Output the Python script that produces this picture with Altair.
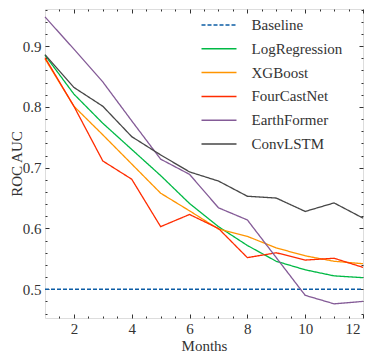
import altair as alt
import pandas as pd

months = list(range(1, 13))
series_names = ["Baseline", "LogRegression", "XGBoost", "FourCastNet", "EarthFormer", "ConvLSTM"]
series_colors = ["#0C5DA5", "#00B945", "#FF9500", "#FF2C00", "#845B97", "#474747"]
series_dash = [[4, 2], [1, 0], [1, 0], [1, 0], [1, 0], [1, 0]]

baseline = [0.5] * 12
log_regression = [0.885, 0.821, 0.773, 0.730, 0.687, 0.641, 0.603, 0.572, 0.546, 0.532, 0.522, 0.519]
xgboost = [0.879, 0.801, 0.754, 0.706, 0.658, 0.629, 0.599, 0.587, 0.568, 0.555, 0.546, 0.542]
fourcastnet = [0.881, 0.801, 0.711, 0.681, 0.603, 0.623, 0.600, 0.552, 0.560, 0.548, 0.551, 0.536]
earthformer = [0.948, 0.895, 0.841, 0.777, 0.714, 0.689, 0.634, 0.614, 0.552, 0.490, 0.476, 0.480]
convlstm = [0.886, 0.832, 0.801, 0.751, 0.721, 0.693, 0.678, 0.653, 0.650, 0.628, 0.642, 0.617]

x_major = [2, 4, 6, 8, 10, 12]
x_minor = [1.5, 2.5, 3, 3.5, 4.5, 5, 5.5, 6.5, 7, 7.5, 8.5, 9, 9.5, 10.5, 11, 11.5]
y_major = [0.5, 0.6, 0.7, 0.8, 0.9]
y_minor = [0.46, 0.48, 0.52, 0.54, 0.56, 0.58, 0.62, 0.64, 0.66, 0.68,
           0.72, 0.74, 0.76, 0.78, 0.82, 0.84, 0.86, 0.88, 0.92, 0.94, 0.96]

all_series = [baseline, log_regression, xgboost, fourcastnet, earthformer, convlstm]
rows = []
for name, vals in zip(series_names, all_series):
    for m, v in zip(months, vals):
        rows.append({"month": m, "value": v, "series": name})
df = pd.DataFrame(rows)

W, H = 318, 309
FONT = "Liberation Serif"
TXT = "#333333"
x_scale = alt.Scale(domain=[1, 12], nice=False, zero=False)
y_scale = alt.Scale(domain=[0.4527, 0.961], nice=False, zero=False)

legend_kw = dict(title=None, orient="none", legendX=155.5, legendY=8,
                 symbolType="stroke", symbolSize=1225, symbolStrokeWidth=1.5,
                 labelFont=FONT, labelFontSize=15, labelColor=TXT,
                 labelOffset=14, rowPadding=7.8, clipHeight=16, padding=0)

main = alt.Chart(df).mark_line(strokeWidth=1.3).encode(
    x=alt.X("month:Q", scale=x_scale,
            axis=alt.Axis(orient="bottom", values=x_major, ticks=False, domain=False, grid=False,
                          labelPadding=3, labelFontSize=15, labelFont=FONT, labelColor=TXT,
                          title="Months", titleFont=FONT, titleFontSize=15, titleFontWeight="normal",
                          titleColor=TXT, titlePadding=2, labelFlush=True, labelFlushOffset=-3)),
    y=alt.Y("value:Q", scale=y_scale,
            axis=alt.Axis(orient="left", values=y_major, ticks=False, domain=False, grid=False,
                          labelPadding=4, labelFontSize=15, labelFont=FONT, labelColor=TXT,
                          format=".1f", title="ROC AUC", titleFont=FONT, titleFontSize=15,
                          titleFontWeight="normal", titleColor=TXT, titlePadding=-2)),
    color=alt.Color("series:N", sort=series_names,
                    scale=alt.Scale(domain=series_names, range=series_colors),
                    legend=alt.Legend(**legend_kw)),
    strokeDash=alt.StrokeDash("series:N", sort=series_names,
                              scale=alt.Scale(domain=series_names, range=series_dash),
                              legend=alt.Legend(**legend_kw)),
    order=alt.Order("series:N"),
)


def tick_axis(orient, values, size, offset):
    return alt.Axis(orient=orient, values=values, tickSize=size, tickWidth=1, tickColor=TXT,
                    labels=False, domain=False, grid=False, title=None, offset=offset)


tick_layers = []
specs = [
    ("top", x_major, 4, -H, "right", y_major, 4, -W),
    ("top", x_minor, 2, -H, "right", y_minor, 2, -W),
    ("bottom", x_major, 4, -H, "left", y_major, 4, -W),
    ("bottom", x_minor, 2, -H, "left", y_minor, 2, -W),
]
for xo, xv, xs, xoff, yo, yv, ys, yoff in specs:
    tick_layers.append(
        alt.Chart(df).mark_point(opacity=0).encode(
            x=alt.X("month:Q", scale=x_scale, axis=tick_axis(xo, xv, xs, xoff)),
            y=alt.Y("value:Q", scale=y_scale, axis=tick_axis(yo, yv, ys, yoff)),
        )
    )

chart = alt.layer(main, *tick_layers).resolve_axis(x="independent", y="independent").properties(
    width=W, height=H,
    autosize=alt.AutoSizeParams(type="none"),
    padding={"left": 37, "top": 1, "right": 3, "bottom": 41},
).configure_view(stroke="#444444", strokeWidth=1).configure(background="white")

chart.save("out.html", embed_options={"renderer": "svg", "actions": False})
